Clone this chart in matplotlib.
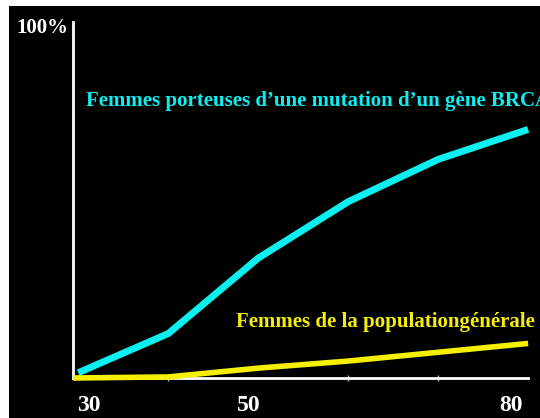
import matplotlib
matplotlib.use("Agg")
import matplotlib.pyplot as plt
from matplotlib.patches import Rectangle
from matplotlib.transforms import ScaledTranslation

# data (risk in %, by age)
ages = [30, 40, 50, 60, 70, 80]
brca_risk = [1.5, 12.6, 34.0, 50.0, 62.0, 70.5]
general_risk = [0.0, 0.3, 2.8, 4.8, 7.3, 9.8]
tick_ages = [30, 50, 80]
tick_labels = ["30", "50", "80"]
minor_ages = [40, 50, 60, 70, 80]

label_brca = "Femmes porteuses d\u2019une mutation d\u2019un gène BRCA"
label_general = "Femmes de la populationgénérale"

CYAN = "#0af0f0"
YELLOW = "#f5f000"
FONT = "Liberation Serif"

fig = plt.figure(figsize=(5.4, 4.18), dpi=100, facecolor="black")
ax = fig.add_axes([0.135, 0.0957, 0.843, 0.852])
ax.set_facecolor("black")

# white frame strips on the top and left edge of the slide
fig.add_artist(Rectangle((0, 1 - 6 / 418), 1, 6 / 418, transform=fig.transFigure,
                         facecolor="white", edgecolor="none"))
fig.add_artist(Rectangle((0, 0), 9 / 540, 1, transform=fig.transFigure,
                         facecolor="white", edgecolor="none"))

ax.plot(ages, brca_risk, color=CYAN, linewidth=5, solid_capstyle="butt",
        clip_on=False, zorder=3)
ax.plot([29.4] + ages[1:], general_risk, color=YELLOW, linewidth=4,
        solid_capstyle="butt", clip_on=False, zorder=4)

ax.set_xlim(29.4, 80)
ax.set_ylim(0, 101)

for side in ["top", "right"]:
    ax.spines[side].set_visible(False)
for side in ["left", "bottom"]:
    ax.spines[side].set_color("white")
    ax.spines[side].set_linewidth(2)

ax.set_yticks([])
ax.set_xticks(tick_ages)
ax.set_xticklabels(tick_labels, fontfamily=FONT, fontweight="bold",
                   fontsize=17, color="white")
ax.tick_params(axis="x", which="major", length=0, pad=12)
ax.set_xticks(minor_ages, minor=True)
ax.tick_params(axis="x", which="minor", length=5, width=1, color="#bbbbbb",
               direction="inout")

# labels in the reference sit a little off their ticks
for lbl, dx in zip(ax.get_xticklabels(), [11, -9, -17]):
    lbl.set_transform(lbl.get_transform() + ScaledTranslation(dx / 100, 0, fig.dpi_scale_trans))

fig.text(16 / 540, 1 - 28 / 418, "100%", color="white", fontfamily=FONT,
         fontweight="bold", fontsize=15, va="center", ha="left")

fig.text(86 / 540, 1 - 101 / 418, label_brca, color=CYAN, fontfamily=FONT,
         fontweight="bold", fontsize=15, va="center", ha="left")
fig.text(236 / 540, 1 - 322 / 418, label_general, color=YELLOW, fontfamily=FONT,
         fontweight="bold", fontsize=15, va="center", ha="left")

fig.savefig("out.png", dpi=100, facecolor="black")
